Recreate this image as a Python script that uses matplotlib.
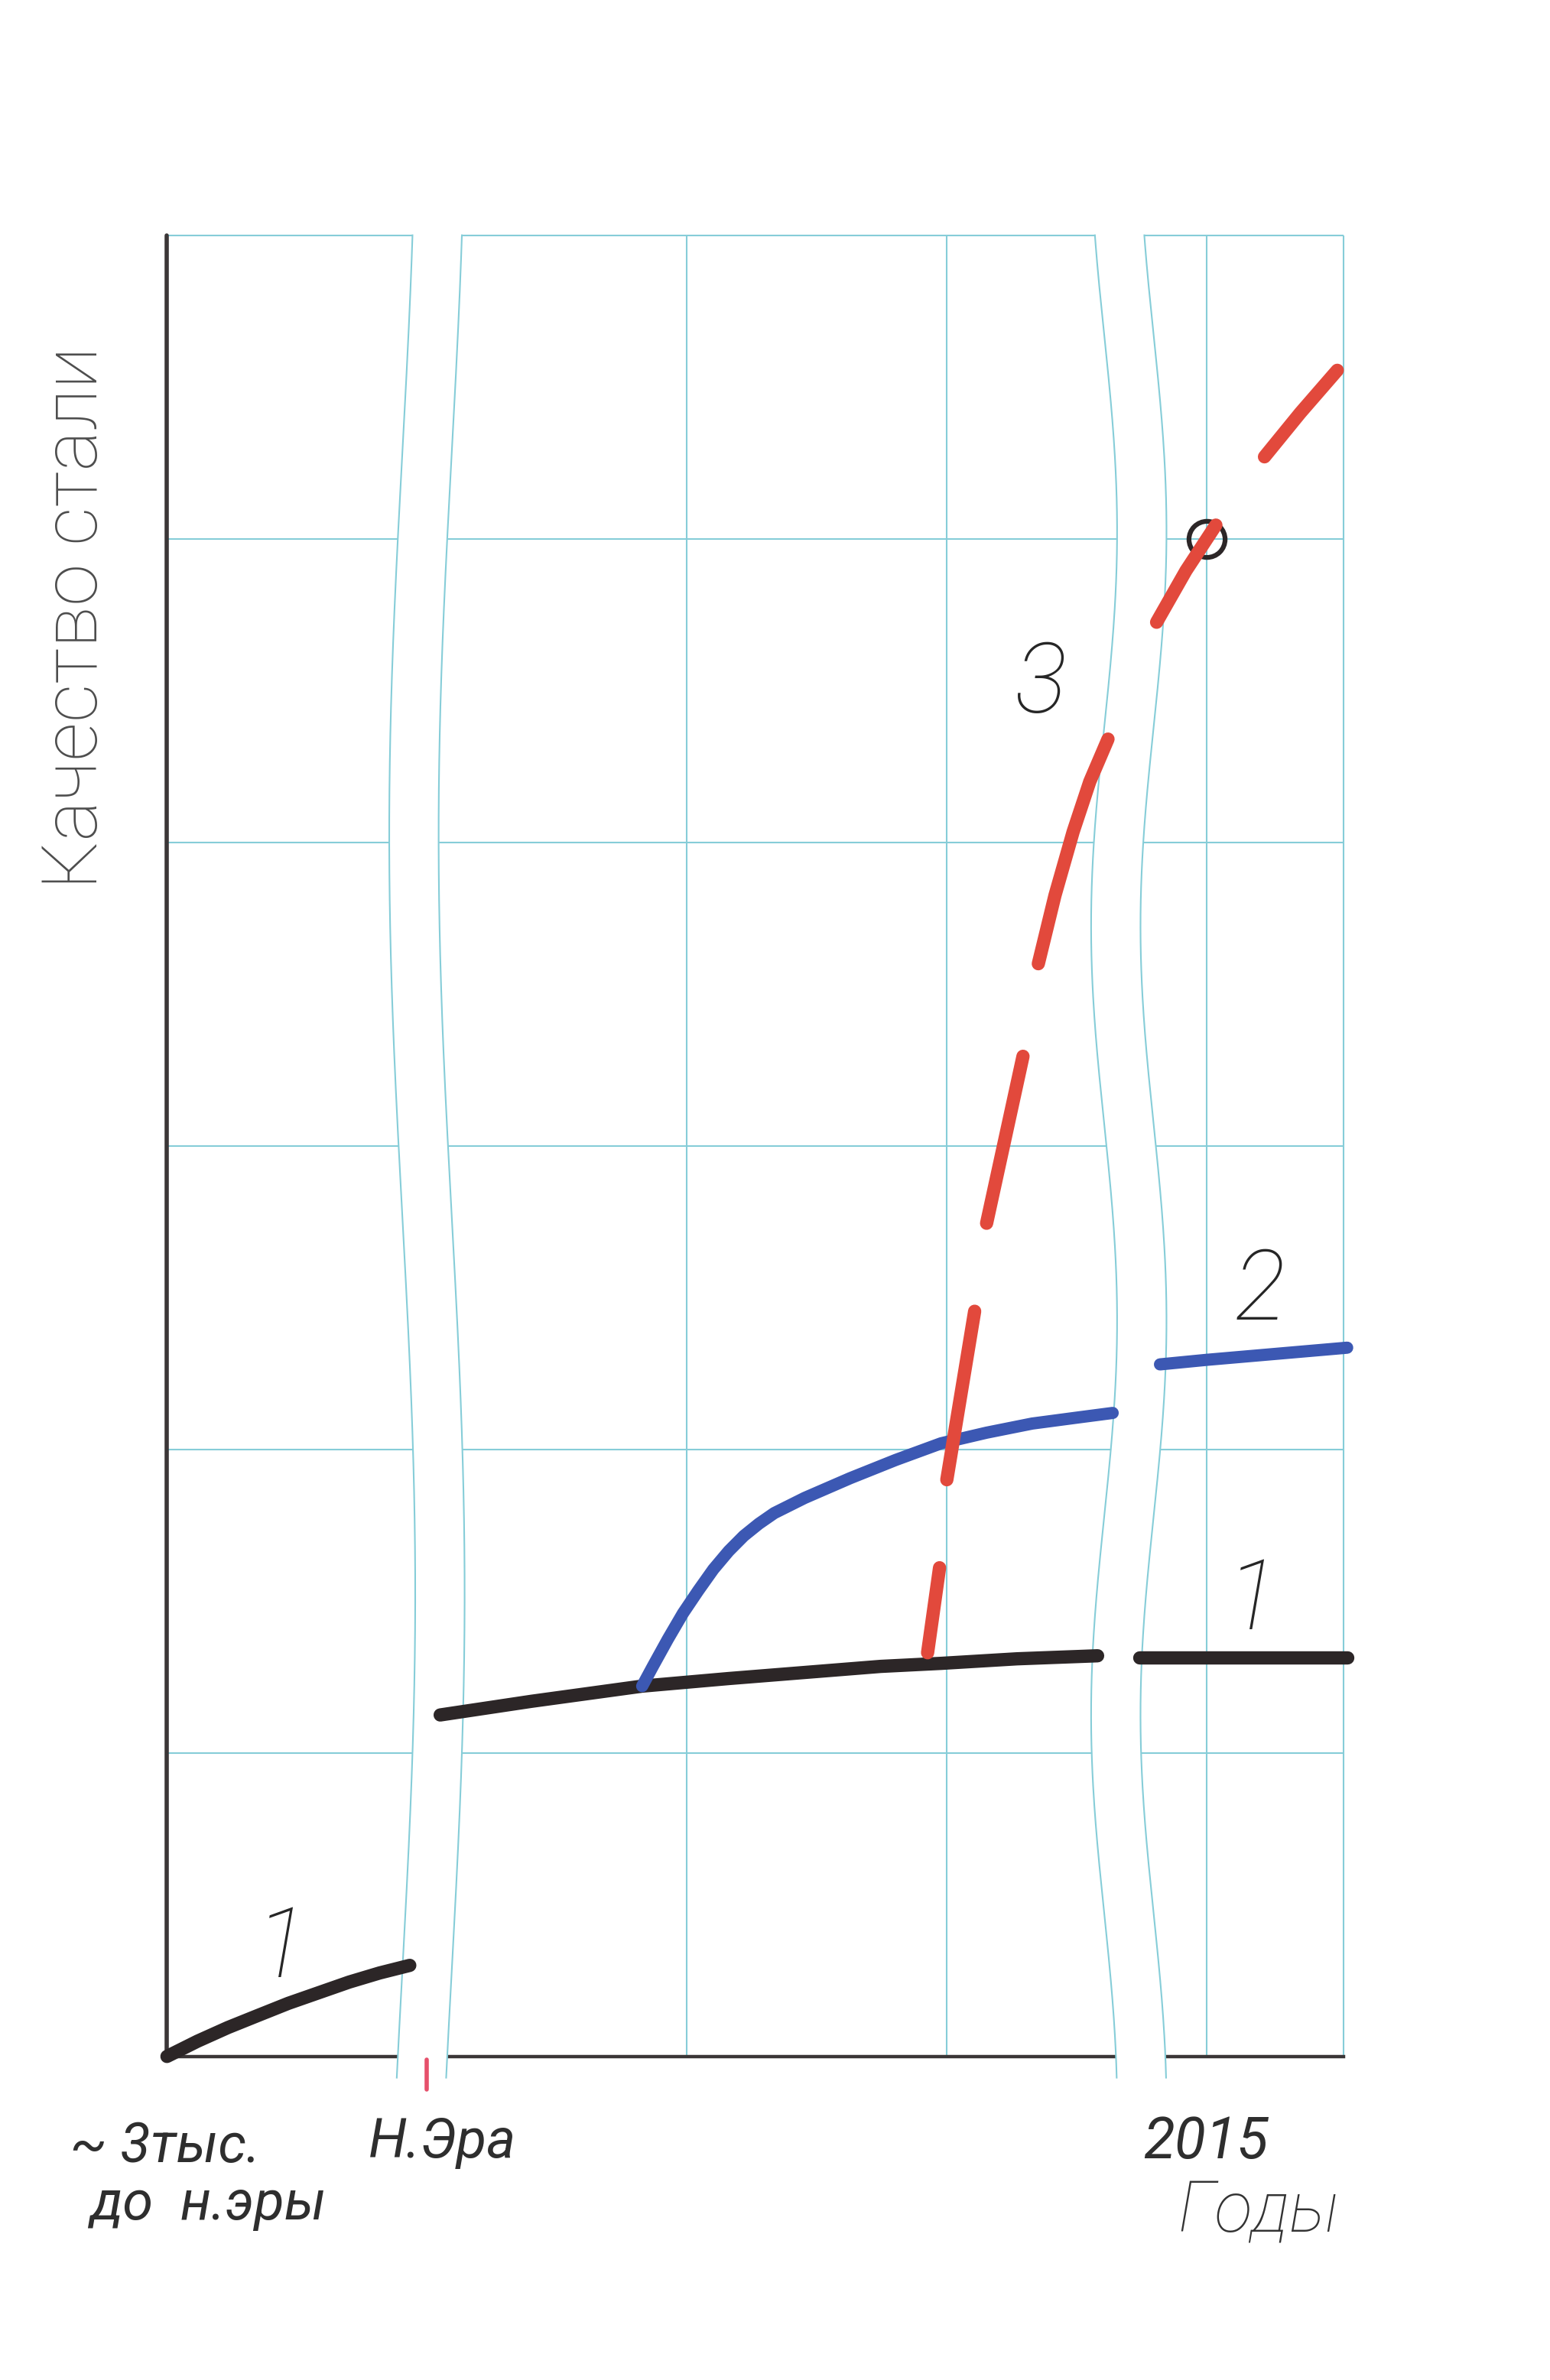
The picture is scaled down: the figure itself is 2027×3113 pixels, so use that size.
import numpy as np
import matplotlib
matplotlib.use("Agg")
import matplotlib.pyplot as plt

# ==========================================
# DATA (x: one grid column per unit, y: one grid row per unit)
# ==========================================

# curve 1 (black) - three pieces split by the axis breaks
line1_x = [[0.0, 0.117, 0.234, 0.350, 0.467, 0.584, 0.701, 0.818, 0.934],
           [1.051, 1.402, 1.828, 2.161, 2.453, 2.745, 2.978, 3.270, 3.580],
           [3.74, 4.54]]
line1_y = [[0.0, 0.050, 0.095, 0.135, 0.175, 0.210, 0.245, 0.275, 0.300],
           [1.125, 1.170, 1.220, 1.245, 1.265, 1.285, 1.295, 1.310, 1.320],
           [1.315, 1.315]]

# curve 2 (blue)
line2_x = [[1.828, 1.869, 1.927, 1.985, 2.044, 2.102, 2.161, 2.219, 2.277, 2.336,
            2.453, 2.628, 2.803, 2.978, 3.153, 3.328, 3.504, 3.638],
           [3.82, 4.00, 4.54]]
line2_y = [[1.220, 1.285, 1.375, 1.460, 1.535, 1.605, 1.665, 1.715, 1.755, 1.790,
            1.840, 1.905, 1.965, 2.020, 2.055, 2.085, 2.105, 2.120],
           [2.28, 2.295, 2.335]]

# curve 3 (red, hand dashed) - one list per dash
line3_x = [[2.926, 2.972], [3.00, 3.107], [3.153, 3.293],
           [3.352, 3.416, 3.486, 3.550, 3.620], [3.807, 3.920, 4.035], [4.222, 4.360, 4.502]]
line3_y = [[1.33, 1.61], [1.90, 2.455], [2.745, 3.295],
           [3.600, 3.825, 4.035, 4.200, 4.340], [4.725, 4.895, 5.045], [5.27, 5.415, 5.555]]

mark_2015 = (4.0, 5.0)

grid_rows = [1, 2, 3, 4, 5, 6]
grid_cols = [2, 3, 4]
x_end = 4.526
breaks = [1.0, 3.70]

curve_labels = ["1", "1", "2", "3"]
curve_label_pos = [(0.438, 0.35), (4.175, 1.495), (4.204, 2.515), (3.358, 4.515)]

# ==========================================
# FIGURE
# ==========================================

plt.rcParams['font.family'] = ['Roboto', 'DejaVu Sans']

fig = plt.figure(figsize=(20.27, 31.13), dpi=100)
ax = fig.add_axes([0, 0, 1, 1])
ax.set_xlim(-0.6423, 5.3203)
ax.set_ylim(-1.066, 6.775)
ax.axis('off')

grid_c = '#86cdd8'
axis_c = '#3b3637'
black = '#2c2627'
blue = '#3c58b3'
red = '#e2493c'

# grid
ax.hlines(grid_rows, 0, x_end, color=grid_c, lw=1.5, zorder=1)
ax.vlines(grid_cols + [x_end], 0, 6, color=grid_c, lw=1.5, zorder=1)

# axes
ax.plot([0, 0], [0, 6], color=axis_c, lw=4, solid_capstyle='round', zorder=2)
ax.plot([0, x_end], [0, 0], color=axis_c, lw=3.2, zorder=2)

# wavy breaks
yy = np.linspace(-0.07, 6.0, 400)
w = 0.19
for b, per, ph, amp in zip(breaks, [5.0, 2.6], [1.525, 2.425], [0.05, 0.05]):
    left = b - w / 2 + amp * np.cos(2 * np.pi * (yy - ph) / per)
    right = left + w
    ax.fill_betweenx(np.r_[yy, 6.03], np.r_[left, left[-1]], np.r_[right, right[-1]],
                     color='white', lw=0, zorder=3)
    ax.plot(left, yy, color=grid_c, lw=1.5, zorder=3.5)
    ax.plot(right, yy, color=grid_c, lw=1.5, zorder=3.5)

# red tick at the break
ax.plot([1.0, 1.0], [-0.01, -0.11], color='#e6506b', lw=4, solid_capstyle='round', zorder=4)

# curves
for xs, ys in zip(line1_x, line1_y):
    ax.plot(xs, ys, color=black, lw=12.5, solid_capstyle='round', solid_joinstyle='round', zorder=5)
for xs, ys in zip(line2_x, line2_y):
    ax.plot(xs, ys, color=blue, lw=11.5, solid_capstyle='round', solid_joinstyle='round', zorder=6)
for xs, ys in zip(line3_x, line3_y):
    ax.plot(xs, ys, color=red, lw=12.5, solid_capstyle='round', solid_joinstyle='round', zorder=7)

ax.plot(*mark_2015, marker='o', ms=34, mfc='none', mec=black, mew=4.5, zorder=6.5)

# curve numbers
for lab, (x, y) in zip(curve_labels, curve_label_pos):
    ax.text(x, y, lab, fontsize=92, fontweight='light', style='italic',
            color='#262626', ha='center', va='center', zorder=8)

# axis texts
ax.text(-0.27, 4.74, "Качество стали", rotation=90, fontsize=72, fontweight='light',
        color='#4d4d4d', ha='center', va='baseline', rotation_mode='anchor')
ax.text(3.888, -0.575, "Годы", fontsize=66, fontweight='light', style='italic',
        color='#333333', ha='left', va='baseline')
ax.text(-0.372, -0.3475, "~ 3тыс.", fontsize=52, fontweight='normal', style='italic',
        color='#2e2e2e', ha='left', va='baseline')
ax.text(-0.295, -0.5375, "до  н.эры", fontsize=52, fontweight='normal', style='italic',
        color='#2e2e2e', ha='left', va='baseline')
ax.text(0.776, -0.333, "Н.Эра", fontsize=52, fontweight='normal', style='italic',
        color='#2e2e2e', ha='left', va='baseline')
ax.text(3.755, -0.335, "2015", fontsize=54, fontweight='normal', style='italic',
        color='#2e2e2e', ha='left', va='baseline')

fig.savefig("out.png", dpi=100, facecolor='white')
